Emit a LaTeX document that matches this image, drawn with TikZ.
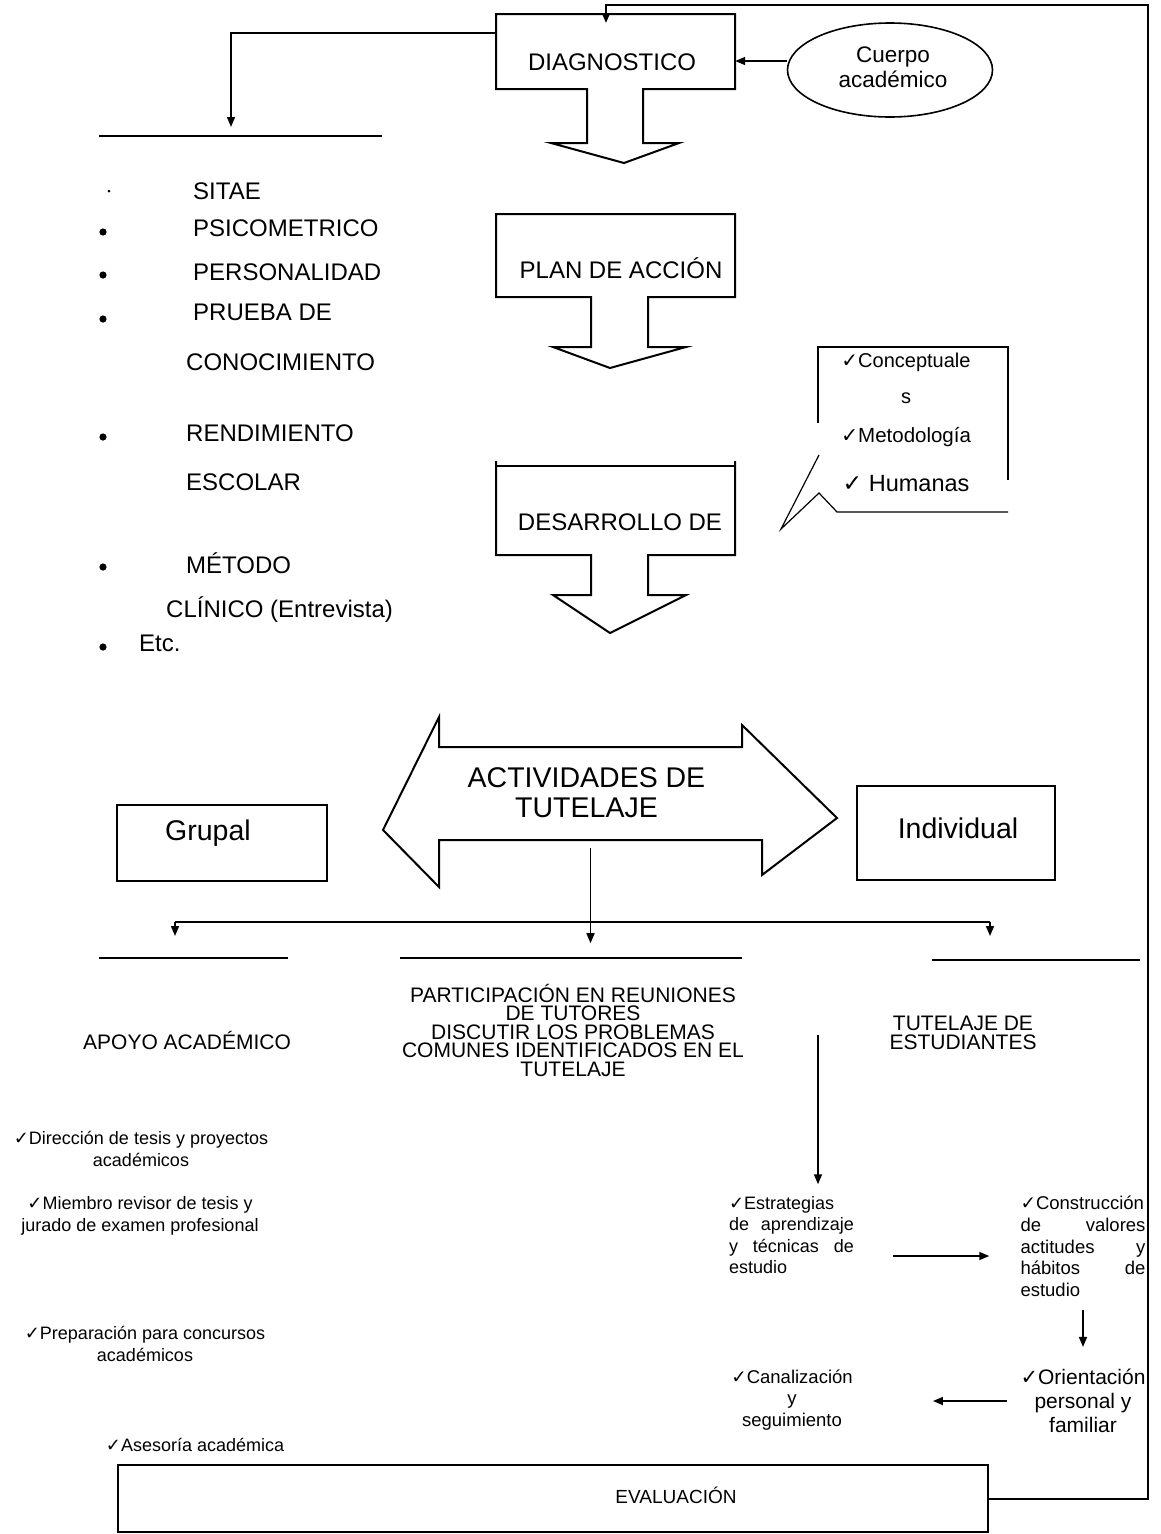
\documentclass[tikz,border=0pt]{standalone}
\usepackage{fontspec}
\setmainfont{Liberation Sans}
\newfontfamily\djv{DejaVu Sans}
\usetikzlibrary{arrows.meta,shapes.geometric}
\newcommand\mychk{{\djv\char"2713}}
\newcommand\fsz[2]{\fontsize{#1}{#2}\selectfont}
\begin{document}
\begin{tikzpicture}[x=1pt,y=-1pt,
  outl/.style={line width=2pt,line join=miter},
  thinl/.style={line width=1.2pt},
  arr/.style={line width=1.6pt,-{Triangle[length=10pt,width=8pt]}},
  rulel/.style={line width=2pt},
  txt/.style={inner sep=0pt,align=center},
  boxn/.style={draw,line width=1.6pt,inner sep=0pt},
  hid/.style={inner sep=0pt},
  lst/.style={inner sep=0pt,anchor=base west,font=\fsz{24}{28}},
  bul/.style={fill=black}]
\useasboundingbox (0,0) rectangle (1161,1534);
\fill[white] (0,0) rectangle (1161,1534);

% ---------- DIAGNOSTICO ----------
\node[hid,minimum width=239pt,minimum height=75pt] (diag) at (615.5,51.5) {};
\draw[outl] (496,14) -- (735,14) -- (735,89) -- (643,89) -- (643,143) -- (679,143) -- (624,163) -- (551,143) -- (587,143) -- (587,89) -- (496,89) -- cycle;
\node[txt,anchor=base,font=\fsz{24}{28}] (diagt) at (612,70.6) {DIAGNOSTICO};

% ---------- Cuerpo academico ----------
\node[ellipse,draw,line width=1.6pt,minimum width=205pt,minimum height=94pt,inner sep=0pt] (cuerpo) at (890,70) {};
\node[txt,font=\fsz{22.5}{25}] (cuerpot) at (893,67.5) {Cuerpo\\académico};
\path ([yshift=9pt]cuerpo.west) coordinate (cw);
\draw[arr] (cw) -- (cw -| diag.east);

% ---------- Evaluacion and feedback ----------
\node[boxn,minimum width=870pt,minimum height=67pt] (eval) at (553,1498.5) {};
\node[txt,anchor=base,font=\fsz{19}{20}] (evalt) at (676,1503.4) {EVALUACIÓN};
\coordinate (fbR) at (1148,5);
\coordinate (fbin) at (606,23);
\draw[arr,line width=2pt] (eval.east) -| (fbR) -| (fbin);

% ---------- left branch from DIAGNOSTICO ----------
\path ([yshift=18.5pt]diag.west) coordinate (dw);
\coordinate (lbend) at (231,127);
\draw[arr] (dw) -| (lbend);
\draw[rulel] (99,136) -- (382,136);

% ---------- list ----------
\fill (109,191) circle (1.5pt);
\foreach \yy in {232,275,319,437,567,647} { \fill (103,\yy) circle (3.6pt); }
\node[lst] (l1) at (193,199.5) {SITAE};
\node[lst] (l2) at (193,236.5) {PSICOMETRICO};
\node[lst] (l3) at (193,280.5) {PERSONALIDAD};
\node[lst] (l4) at (193,320.5) {PRUEBA DE};
\node[lst] (l5) at (186,370.5) {CONOCIMIENTO};
\node[lst] (l6) at (186,441.5) {RENDIMIENTO};
\node[lst] (l7) at (186,490.5) {ESCOLAR};
\node[lst] (l8) at (186,573.5) {MÉTODO};
\node[lst] (l9) at (166,617.5) {CLÍNICO (Entrevista)};
\node[lst] (l10) at (139,651.5) {Etc.};

% ---------- PLAN DE ACCION ----------
\node[hid,minimum width=239pt,minimum height=83pt] (plan) at (615.5,255.5) {};
\draw[outl] (496,214) -- (735,214) -- (735,297) -- (648,297) -- (648,347) -- (686,347) -- (610,368) -- (553,347) -- (591,347) -- (591,297) -- (496,297) -- cycle;
\node[txt,anchor=base,font=\fsz{24}{28}] (plant) at (621,278.6) {PLAN DE ACCIÓN};

% ---------- DESARROLLO DE ----------
\node[hid,minimum width=239pt,minimum height=89pt] (desa) at (615.5,510.5) {};
\draw[outl] (496,461) -- (496,555) -- (591,555) -- (591,595) -- (553,595) -- (610,633) -- (686,595) -- (648,595) -- (648,555) -- (735,555) -- (735,461);
\draw[outl] (496,466) -- (735,466);
\node[txt,anchor=base,font=\fsz{24}{28}] (desat) at (620,530.6) {DESARROLLO DE};

% ---------- callout ----------
\draw[thinl] (818,423) -- (818,347) -- (1008,347) -- (1008,480);
\draw[thinl,line join=miter] (819,455) -- (781,529) -- (819,493) -- (837,512) -- (1008,512);
\node[txt,anchor=base,font=\fsz{20}{22}] (conc) at (906,367) {\mychk Conceptuale};
\node[txt,anchor=base,font=\fsz{20}{22}] (concs) at (906,403) {s};
\node[txt,anchor=base,font=\fsz{20.5}{22}] (metod) at (906,442) {\mychk Metodología};
\node[txt,anchor=base,font=\fsz{23.5}{26}] (hum) at (906,491) {\mychk\ Humanas};

% ---------- ACTIVIDADES DE TUTELAJE ----------
\draw[outl] (383,830) -- (439,717) -- (439,747) -- (742,747) -- (742,725) -- (837,818) -- (762,875) -- (762,840) -- (439,840) -- (439,887) -- cycle;
\node[hid,minimum width=454pt,minimum height=93pt] (act) at (590.5,793.5) {};
\node[txt,font=\fsz{28.5}{30}] (actt) at (586.5,793) {ACTIVIDADES DE\\TUTELAJE};

\node[boxn,minimum width=210pt,minimum height=76pt] (grupal) at (222,843) {};
\node[txt,anchor=base,font=\fsz{28.5}{30}] (grupalt) at (208,840) {Grupal};
\node[boxn,minimum width=198pt,minimum height=94pt] (indiv) at (956,833) {};
\node[txt,anchor=base,font=\fsz{28.5}{30}] (indivt) at (958,838) {Individual};

% ---------- branches ----------
\draw[arr] ([yshift=-8pt]act.south) -- ++(0,95);
\coordinate (brL) at (175,922);
\coordinate (brR) at (990,922);
\draw[rulel] (brL) -- (brR);
\draw[arr] (brL) -- ++(0,14);
\draw[arr] (brR) -- ++(0,14);
\draw[rulel] (99,958) -- (288,958);
\draw[rulel] (400,958) -- (742,958);
\draw[rulel] (932,960) -- (1140,960);

\node[txt,anchor=base,font=\fsz{21}{24}] (apoyo) at (187,1049.5) {APOYO ACADÉMICO};
\node[txt,font=\fsz{21}{18.5}] (part) at (573,1030) {PARTICIPACIÓN EN REUNIONES\\DE TUTORES\\DISCUTIR LOS PROBLEMAS\\COMUNES IDENTIFICADOS EN EL\\TUTELAJE};
\node[txt,font=\fsz{21}{19}] (tut) at (963,1033) {TUTELAJE DE\\ESTUDIANTES};

% ---------- left column ----------
\node[txt,font=\fsz{18}{22}] (dir) at (141,1149) {\mychk Dirección de tesis y proyectos\\académicos};
\node[txt,font=\fsz{18}{22}] (miem) at (140,1216) {\mychk Miembro revisor de tesis y\\jurado de examen profesional};
\node[txt,font=\fsz{18}{22}] (prep) at (145,1344) {\mychk Preparación para concursos\\académicos};
\node[txt,anchor=base,font=\fsz{18}{22}] (ases) at (195,1451) {\mychk Asesoría académica};

% ---------- right column ----------
\node[txt,align=left,font=\fsz{18}{21.3}] (estr) at (791.5,1235) {\mychk Estrategias\\\makebox[125pt][s]{de aprendizaje}\\\makebox[125pt][s]{y técnicas de}\\estudio};
\node[txt,align=left,font=\fsz{18.5}{21.7}] (cons) at (1083,1246.5) {\mychk Construcción\\\makebox[125pt][s]{de valores}\\\makebox[125pt][s]{actitudes y}\\\makebox[125pt][s]{hábitos de}\\estudio};
\node[txt,font=\fsz{21}{24}] (orient) at (1083,1401) {\mychk Orientación\\personal y\\familiar};
\node[txt,font=\fsz{18.5}{21.5}] (canal) at (792,1400) {\mychk Canalización\\y\\seguimiento};

\coordinate (tutarr) at (818,1035);
\path ([yshift=12pt]estr.north) coordinate (en);
\draw[arr] (tutarr) -- (tutarr |- en);
\path ([xshift=39pt,yshift=-21pt]estr.east) coordinate (e1);
\path ([xshift=-31pt]cons.west) coordinate (c1);
\draw[arr] (e1) -- (e1 -| c1);
\draw[arr] ([yshift=-13pt]cons.south) -- ([yshift=22pt]orient.north);
\path ([xshift=-13pt]orient.west) coordinate (o1);
\path ([xshift=80pt]canal.east) coordinate (k1);
\draw[arr] (o1) -- (o1 -| k1);
\end{tikzpicture}
\end{document}
